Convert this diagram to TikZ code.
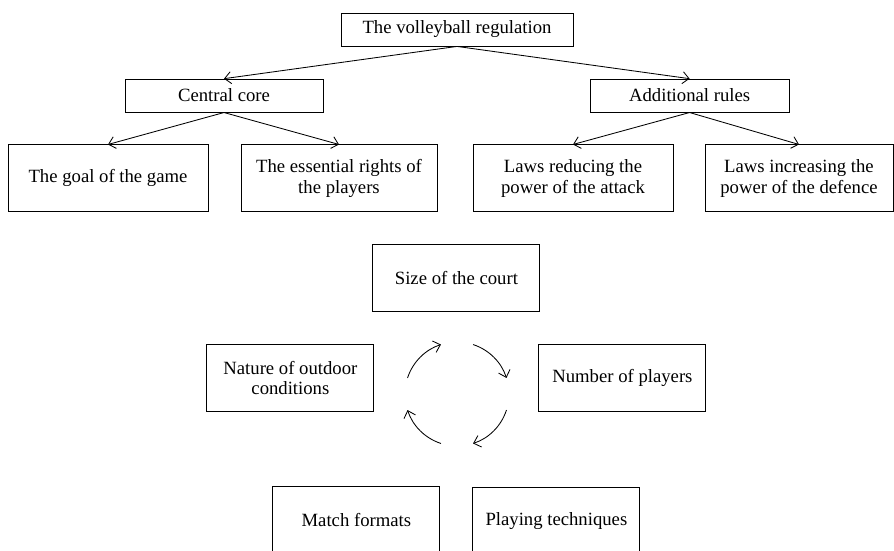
\documentclass[tikz,border=0pt]{standalone}
\usepackage{fontspec}
\setmainfont{Liberation Serif}
\usepackage{tikz}
\usetikzlibrary{shapes,arrows,positioning,calc,arrows.meta}
\tikzstyle{arrow} = [-{Straight Barb[length=1.6mm,width=3mm]}, line width=0.6pt]
\tikzstyle{box} = [draw, rectangle, line width=0.6pt, inner sep=0pt, align=center, font=\fontsize{13.3}{14.5}\selectfont]

\begin{document}
\begin{tikzpicture}
    \useasboundingbox (0,0) rectangle (22.35,-13.775);
    \clip (0,0) rectangle (22.35,-13.775);

    % Top of the tree
    \node[box, minimum width=5.8cm, minimum height=0.825cm] (reg) at (11.425,-0.7375) {The volleyball regulation};
    \node[box, minimum width=4.95cm, minimum height=0.825cm] (core) at (5.6,-2.39) {Central core};
    \node[box, minimum width=4.975cm, minimum height=0.825cm] (addit) at (17.24,-2.39) {Additional rules};

    % Second level
    \node[box, minimum width=5cm, minimum height=1.675cm] (goal) at (2.7,-4.46) {The goal of the game};
    \node[box, minimum width=4.9cm, minimum height=1.675cm] (rights) at (8.475,-4.46) {The essential rights of\\the players};
    \node[box, minimum width=5cm, minimum height=1.675cm] (attack) at (14.325,-4.46) {Laws reducing the\\power of the attack};
    \node[box, minimum width=4.7cm, minimum height=1.675cm] (defence) at (19.975,-4.46) {Laws increasing the\\power of the defence};

    % Connections
    \draw[arrow] (reg.south) -- (core.north);
    \draw[arrow] (reg.south) -- (addit.north);
    \draw[arrow] (core.south) -- (goal.north);
    \draw[arrow] (core.south) -- (rights.north);
    \draw[arrow] (addit.south) -- (attack.north);
    \draw[arrow] (addit.south) -- (defence.north);

    % Factors
    \node[box, minimum width=4.175cm, minimum height=1.675cm] (court) at (11.41,-6.96) {Size of the court};
    \node[box, minimum width=4.175cm, minimum height=1.675cm] (outdoor) at (7.26,-9.45) {Nature of outdoor\\conditions};
    \node[box, minimum width=4.175cm, minimum height=1.675cm] (players) at (15.56,-9.44) {Number of players};
    \node[box, minimum width=4.175cm, minimum height=1.675cm] (formats) at (8.91,-13.01) {Match formats};
    \node[box, minimum width=4.175cm, minimum height=1.675cm] (tech) at (13.91,-13.03) {Playing techniques};

    % Cycle
    \coordinate (cyc) at (11.425,-9.85);
    \foreach \a in {0,90,180,270}
        \draw[arrow] ($(cyc)+(\a+72:1.3)$) arc (\a+72:\a+18:1.3);
\end{tikzpicture}
\end{document}
